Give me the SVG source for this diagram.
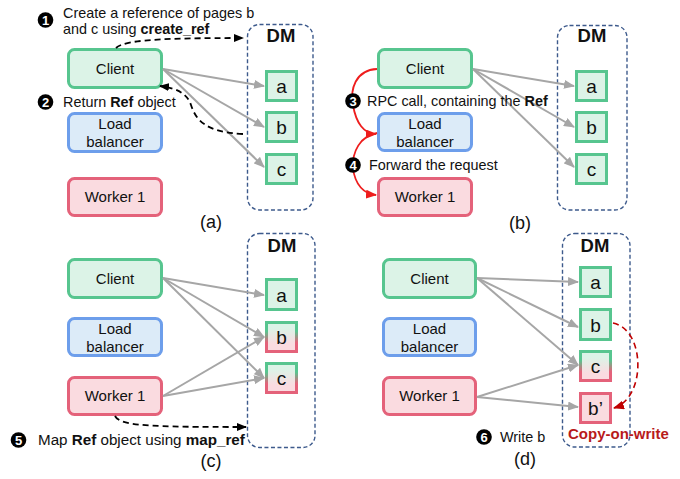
<svg xmlns="http://www.w3.org/2000/svg" width="680" height="479" viewBox="0 0 680 479">
<defs>
<marker id="mg" markerUnits="userSpaceOnUse" markerWidth="11" markerHeight="9" refX="10" refY="4.5" orient="auto"><path d="M0,0 L11,4.5 L0,9 z" fill="#a6a6a6"/></marker>
<marker id="mk" markerUnits="userSpaceOnUse" markerWidth="10" markerHeight="8" refX="9" refY="4" orient="auto"><path d="M0,0 L10,4 L0,8 z" fill="#000"/></marker>
<marker id="mr" markerUnits="userSpaceOnUse" markerWidth="11" markerHeight="9" refX="10" refY="4.5" orient="auto"><path d="M0,0 L11,4.5 L0,9 z" fill="#ee1d1d"/></marker>
<marker id="md" markerUnits="userSpaceOnUse" markerWidth="11" markerHeight="9" refX="10" refY="4.5" orient="auto"><path d="M0,0 L11,4.5 L0,9 z" fill="#c00000"/></marker>
<linearGradient id="gf" x1="0" y1="0" x2="0" y2="1"><stop offset="0.2" stop-color="#dcf3e7"/><stop offset="0.75" stop-color="#fadbe0"/></linearGradient>
<linearGradient id="gs" x1="0" y1="0" x2="0" y2="1"><stop offset="0.3" stop-color="#57c58f"/><stop offset="0.7" stop-color="#e4627a"/></linearGradient>
</defs>
<style>
text{font-family:"Liberation Sans",Arial,sans-serif;fill:#111}
.g{fill:#dcf3e7;stroke:#57c58f;stroke-width:3}
.b{fill:#dcebf8;stroke:#6d9eeb;stroke-width:3}
.r{fill:#fadbe0;stroke:#e4627a;stroke-width:3}
.m{fill:url(#gf);stroke:url(#gs);stroke-width:3}
.pg{stroke-width:3}
.dm{fill:none;stroke:#3d5a8c;stroke-width:1.4;stroke-dasharray:4,2.5}
.nt{font-size:15px;text-anchor:middle}
.pt{font-size:19px;text-anchor:middle}
.dt{font-size:18.5px;font-weight:bold;text-anchor:middle}
.lb{font-size:14.4px}
.cap{font-size:18px;text-anchor:middle}
.ga{fill:none;stroke:#a6a6a6;stroke-width:2;marker-end:url(#mg)}
.ka{fill:none;stroke:#000;stroke-width:1.8;stroke-dasharray:6,4;marker-end:url(#mk)}
.ra{fill:none;stroke:#ee1d1d;stroke-width:1.8;marker-end:url(#mr)}
.num{font-size:13px;font-weight:bold;fill:#fff;text-anchor:middle}
</style>

<!-- Panel (a) -->
<g id="a-dm"><rect class="dm" x="247.5" y="24.5" width="65.5" height="185.5" rx="12"/><text class="dt" x="281" y="42">DM</text></g>
<g id="a-client"><rect class="g" x="68.5" y="49.5" width="93" height="38" rx="6"/><text class="nt" x="115" y="74">Client</text></g>
<g id="a-lb"><rect class="b" x="68.5" y="113.5" width="93" height="38" rx="6"/><text class="nt" x="115" y="129">Load</text><text class="nt" x="115" y="147">balancer</text></g>
<g id="a-worker"><rect class="r" x="68.5" y="178.5" width="93" height="37" rx="6"/><text class="nt" x="115" y="202">Worker 1</text></g>
<g id="a-pa"><rect class="g pg" x="266.5" y="71.5" width="30" height="29"/><text class="pt" x="281.5" y="93">a</text></g>
<g id="a-pb"><rect class="g pg" x="266.5" y="112.5" width="30" height="29"/><text class="pt" x="281.5" y="134">b</text></g>
<g id="a-pc"><rect class="g pg" x="266.5" y="154.5" width="30" height="29"/><text class="pt" x="281.5" y="176">c</text></g>
<g id="a-conn">
<path class="ga" d="M163,69 L264,86"/>
<path class="ga" d="M163,69 L264,127"/>
<path class="ga" d="M163,69 L264,167"/>
<path class="ka" d="M116,48 C124,40 160,38 243,38"/>
<path class="ka" d="M243,134 C205,132 196,120 191,105 C187,93 176,88 160,86"/>
</g>
<g id="a-labels">
<circle cx="45.5" cy="20" r="7.8" fill="#000"/><text class="num" x="45.5" y="24.6">1</text>
<text class="lb" x="63" y="17.5">Create a reference of pages b</text>
<text class="lb" x="63" y="34">and c using <tspan font-weight="bold">create_ref</tspan></text>
<circle cx="45.5" cy="102" r="7.8" fill="#000"/><text class="num" x="45.5" y="106.6">2</text>
<text class="lb" x="63" y="106.5">Return <tspan font-weight="bold">Ref</tspan> object</text>
<text class="cap" x="211" y="228">(a)</text>
</g>

<!-- Panel (b) -->
<g id="b-dm"><rect class="dm" x="557.5" y="25.5" width="69.5" height="184.5" rx="12"/><text class="dt" x="592" y="42">DM</text></g>
<g id="b-client"><rect class="g" x="378.5" y="49.5" width="93" height="38" rx="6"/><text class="nt" x="425" y="74">Client</text></g>
<g id="b-lb"><rect class="b" x="378.5" y="113.5" width="93" height="37" rx="6"/><text class="nt" x="425" y="129">Load</text><text class="nt" x="425" y="147">balancer</text></g>
<g id="b-worker"><rect class="r" x="378.5" y="178.5" width="93" height="37" rx="6"/><text class="nt" x="425" y="202">Worker 1</text></g>
<g id="b-pa"><rect class="g pg" x="576.5" y="71.5" width="30" height="29"/><text class="pt" x="591.5" y="93">a</text></g>
<g id="b-pb"><rect class="g pg" x="576.5" y="112.5" width="30" height="29"/><text class="pt" x="591.5" y="134">b</text></g>
<g id="b-pc"><rect class="g pg" x="576.5" y="154.5" width="30" height="29"/><text class="pt" x="591.5" y="176">c</text></g>
<g id="b-conn">
<path class="ga" d="M473,69 L574,86"/>
<path class="ga" d="M473,69 L574,127"/>
<path class="ga" d="M473,69 L574,167"/>
<path class="ra" d="M377,69 C355,70 350,90 353,105 C356,123 364,134 376,134"/>
<path class="ra" d="M377,133 C360,136 352,152 353,168 C355,185 364,194 376,195"/>
</g>
<g id="b-labels">
<circle cx="353" cy="101" r="7.8" fill="#000"/><text class="num" x="353" y="105.6">3</text>
<text class="lb" x="367" y="105.5">RPC call, containing the <tspan font-weight="bold">Ref</tspan></text>
<circle cx="353" cy="165" r="7.8" fill="#000"/><text class="num" x="353" y="169.6">4</text>
<text class="lb" x="369" y="169.5">Forward the request</text>
<text class="cap" x="520" y="229">(b)</text>
</g>

<!-- Panel (c) -->
<g id="c-dm"><rect class="dm" x="247.5" y="233.5" width="67.5" height="214" rx="12"/><text class="dt" x="282" y="252">DM</text></g>
<g id="c-client"><rect class="g" x="68.5" y="259.5" width="93" height="38" rx="6"/><text class="nt" x="115" y="284">Client</text></g>
<g id="c-lb"><rect class="b" x="68.5" y="318.5" width="93" height="37" rx="6"/><text class="nt" x="115" y="334">Load</text><text class="nt" x="115" y="352">balancer</text></g>
<g id="c-worker"><rect class="r" x="68.5" y="377.5" width="93" height="37" rx="6"/><text class="nt" x="115" y="401">Worker 1</text></g>
<g id="c-pa"><rect class="g pg" x="266.5" y="279.5" width="30" height="30"/><text class="pt" x="281.5" y="302">a</text></g>
<g id="c-pb"><rect class="m" x="266.5" y="322.5" width="30" height="29"/><text class="pt" x="281.5" y="344">b</text></g>
<g id="c-pc"><rect class="m" x="266.5" y="363.5" width="30" height="29"/><text class="pt" x="281.5" y="385">c</text></g>
<g id="c-conn">
<path class="ga" d="M163,278 L264,295"/>
<path class="ga" d="M163,278 L264,337"/>
<path class="ga" d="M163,278 L264,378"/>
<path class="ga" d="M163,396 L264,337"/>
<path class="ga" d="M163,396 L264,378"/>
<path class="ka" d="M115,416 C120,426 150,427 246,427"/>
</g>
<g id="c-labels">
<circle cx="18.5" cy="440" r="7.8" fill="#000"/><text class="num" x="18.5" y="444.6">5</text>
<text class="lb" x="38" y="445" style="font-size:15.2px">Map <tspan font-weight="bold">Ref</tspan> object using <tspan font-weight="bold">map_ref</tspan></text>
<text class="cap" x="211" y="467">(c)</text>
</g>

<!-- Panel (d) -->
<g id="d-dm"><rect class="dm" x="562.5" y="233.5" width="67.5" height="213.5" rx="12"/><text class="dt" x="595" y="252">DM</text></g>
<g id="d-client"><rect class="g" x="383.5" y="259.5" width="92" height="38" rx="6"/><text class="nt" x="429.5" y="284">Client</text></g>
<g id="d-lb"><rect class="b" x="383.5" y="318.5" width="92" height="37" rx="6"/><text class="nt" x="429.5" y="334">Load</text><text class="nt" x="429.5" y="352">balancer</text></g>
<g id="d-worker"><rect class="r" x="383.5" y="377.5" width="92" height="37" rx="6"/><text class="nt" x="429.5" y="401">Worker 1</text></g>
<g id="d-pa"><rect class="g pg" x="580.5" y="267.5" width="30" height="29"/><text class="pt" x="595.5" y="289">a</text></g>
<g id="d-pb"><rect class="g pg" x="580.5" y="309.5" width="30" height="30"/><text class="pt" x="595.5" y="332">b</text></g>
<g id="d-pc"><rect class="m" x="580.5" y="351.5" width="30" height="29"/><text class="pt" x="595.5" y="373">c</text></g>
<g id="d-pb2"><rect class="r pg" x="580.5" y="393.5" width="30" height="29"/><text class="pt" x="595.5" y="415">b’</text></g>
<g id="d-conn">
<path class="ga" d="M477,278 L578,282"/>
<path class="ga" d="M477,278 L578,327"/>
<path class="ga" d="M477,278 L578,365"/>
<path class="ga" d="M477,397 L578,365"/>
<path class="ga" d="M477,397 L578,407"/>
<path fill="none" stroke="#c00000" stroke-width="1.6" stroke-dasharray="6,4" marker-end="url(#md)" d="M613,323 C646,330 646,398 614,408"/>
</g>
<g id="d-labels">
<circle cx="484" cy="437" r="7.8" fill="#000"/><text class="num" x="484" y="441.6">6</text>
<text class="lb" x="500" y="442">Write b</text>
<text x="568" y="438.5" style="font-size:15px;font-weight:bold;fill:#b81a1a">Copy-on-write</text>
<text class="cap" x="525" y="465">(d)</text>
</g>
</svg>
